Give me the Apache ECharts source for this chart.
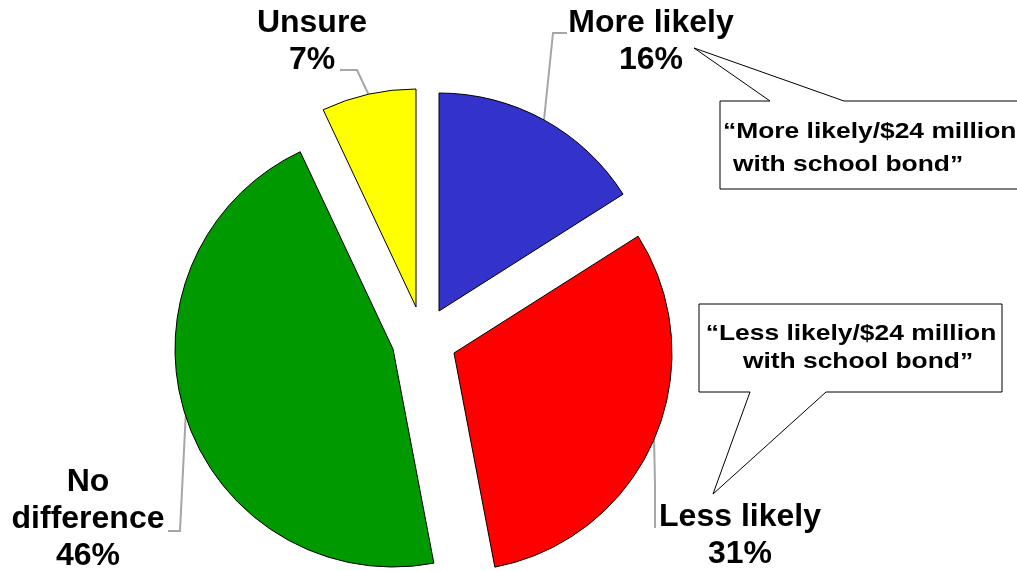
<!DOCTYPE html>
<html>
<head>
<meta charset="utf-8">
<script src="https://cdn.jsdelivr.net/npm/echarts@6/dist/echarts.min.js"></script>
<style>
html,body{margin:0;padding:0;background:#fff;}
#chart{width:1017px;height:571px;}
</style>
</head>
<body>
<div id="chart"></div>
<script>
// ---- data ----
const categories = ['More likely', 'Less likely', 'No difference', 'Unsure'];
const values = [16, 31, 46, 7];
const calloutMore = ['\u201cMore likely/$24 million', 'with school bond\u201d'];
const calloutLess = ['\u201cLess likely/$24 million', 'with school bond\u201d'];

// ---- styles / layout ----
const colors = ['#3333CC', '#FF0000', '#009900', '#FFFF00'];
const sliceCenters = [[439, 311], [454, 353], [393, 349], [416, 307]];
const pieRadius = 218;
const labelBoxes = [
  { x: 651, y: 42, bend: [553, 33], end: [567, 33] },
  { x: 740, y: 536, bend: [655, 484], end: [655, 528] },
  { x: 88, y: 519, bend: [180, 531], end: [168, 531] },
  { x: 312, y: 42, bend: [357, 70], end: [340, 70] }
];
const FONT = '"Liberation Sans", Arial, sans-serif';

const chart = echarts.init(document.getElementById('chart'), null, { renderer: 'canvas' });

const series = categories.map(function (_, k) {
  return {
    type: 'pie',
    radius: pieRadius,
    center: sliceCenters[k],
    startAngle: 90,
    clockwise: true,
    animation: false,
    silent: true,
    avoidLabelOverlap: false,
    z: 2,
    label: {
      show: true,
      position: 'outside',
      formatter: function (p) {
        const nm = p.name === 'No difference' ? 'No\ndifference' : p.name;
        return nm + '\n' + p.value + '%';
      },
      fontFamily: FONT,
      fontWeight: 'bold',
      fontSize: 32,
      lineHeight: 37,
      color: '#000',
      align: 'center'
    },
    labelLine: {
      show: true,
      length: 10,
      length2: 10,
      lineStyle: { color: '#a6a6a6', width: 2 }
    },
    labelLayout: function (params) {
      const b = labelBoxes[k];
      const pts = params.labelLinePoints;
      const p0 = pts && pts[0] ? pts[0] : [b.bend[0], b.bend[1]];
      return {
        x: b.x,
        y: b.y,
        align: 'center',
        verticalAlign: 'middle',
        labelLinePoints: [p0, b.bend, b.end]
      };
    },
    data: categories.map(function (name, i) {
      const visible = i === k;
      return {
        name: name,
        value: values[i],
        itemStyle: visible
          ? { color: colors[i], borderColor: '#000', borderWidth: 1 }
          : { color: 'rgba(0,0,0,0)', borderWidth: 0 },
        label: { show: visible },
        labelLine: { show: visible }
      };
    })
  };
});

const txt = function (x, y, text, align) {
  return {
    type: 'text',
    x: x, y: y,
    scaleX: 1.2,
    z: 20,
    style: {
      text: text,
      fill: '#000',
      font: 'bold 22px "Liberation Sans", Arial, sans-serif',
      textAlign: align,
      textVerticalAlign: 'middle'
    }
  };
};

const option = {
  backgroundColor: '#fff',
  animation: false,
  series: series,
  graphic: [
    {
      type: 'polygon', z: 10,
      shape: { points: [[720, 101], [770, 101], [694, 48], [844, 101], [1030, 101], [1030, 189], [720, 189]] },
      style: { fill: '#fff', stroke: '#000', lineWidth: 1 }
    },
    txt(723, 132, calloutMore[0], 'left'),
    txt(848, 165, calloutMore[1], 'center'),
    {
      type: 'polygon', z: 10,
      shape: { points: [[699, 304], [1002, 304], [1002, 392], [826, 392], [713, 494], [750, 392], [699, 392]] },
      style: { fill: '#fff', stroke: '#000', lineWidth: 1 }
    },
    txt(851, 334, calloutLess[0], 'center'),
    txt(858, 362, calloutLess[1], 'center')
  ]
};

chart.setOption(option);
</script>
</body>
</html>
